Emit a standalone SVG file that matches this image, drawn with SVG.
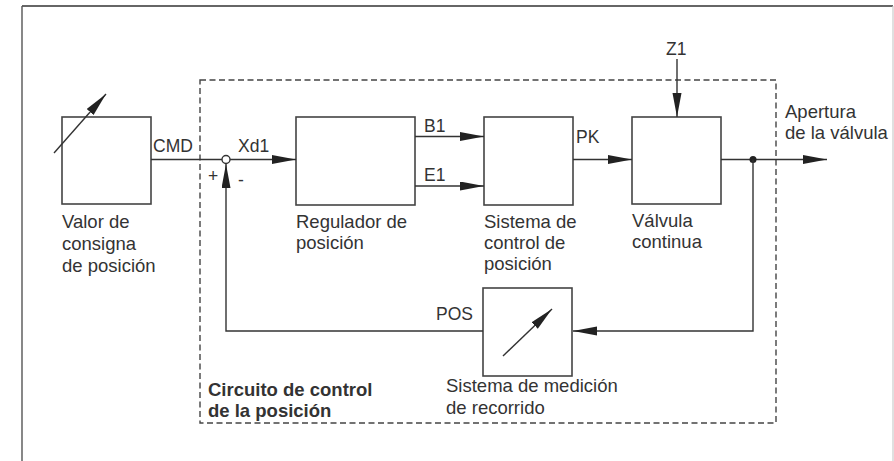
<svg xmlns="http://www.w3.org/2000/svg" width="894" height="461" viewBox="0 0 894 461">
<defs>
<style>
.box{fill:#fff;stroke:#444;stroke-width:1.6}
.ln{fill:none;stroke:#333;stroke-width:1.4}
.arr{marker-end:url(#ah)}
.dash{fill:none;stroke:#444;stroke-width:1.4;stroke-dasharray:6 3.5}
.t{font-family:"Liberation Sans",Arial,Helvetica,sans-serif;font-size:18.5px;fill:#333}
.s{font-family:"Liberation Sans",Arial,Helvetica,sans-serif;font-size:17.5px;fill:#333}
.b{font-family:"Liberation Sans",Arial,Helvetica,sans-serif;font-size:18.5px;font-weight:bold;fill:#333}
</style>
<marker id="ah" markerUnits="userSpaceOnUse" markerWidth="25" markerHeight="10" refX="24" refY="4.5" orient="auto" viewBox="0 0 25 10">
<path d="M0,0 L24,4.5 L0,9 Z" fill="#222"/>
</marker>
</defs>
<rect width="894" height="461" fill="#fff"/>
<g id="frame">
<line x1="22" y1="6" x2="893" y2="6" stroke="#333" stroke-width="1.4"/>
<line x1="22" y1="6" x2="22" y2="461" stroke="#555" stroke-width="1.4"/>
<line x1="893" y1="6" x2="893" y2="461" stroke="#ccc" stroke-width="1.2"/>
</g>
<g id="circuit">
<rect class="dash" x="200" y="80" width="576" height="343"/>
<text class="b" x="208" y="396">Circuito de control</text>
<text class="b" x="208" y="417">de la posición</text>
</g>
<g id="valor">
<rect class="box" x="62" y="117" width="89" height="87"/>
<line class="ln arr" x1="54" y1="153" x2="106" y2="94"/>
<text class="t" x="62" y="228">Valor de</text>
<text class="t" x="62" y="250">consigna</text>
<text class="t" x="62" y="272">de posición</text>
</g>
<g id="sum">
<circle cx="226" cy="159.5" r="4" fill="#fff" stroke="#333" stroke-width="1.4"/>
<text class="s" x="208" y="182">+</text>
<text class="s" x="238" y="186">-</text>
</g>
<g id="regulador">
<rect class="box" x="296" y="117" width="119" height="88"/>
<text class="t" x="296" y="228">Regulador de</text>
<text class="t" x="296" y="249">posición</text>
</g>
<g id="sistema-control">
<rect class="box" x="484" y="117" width="89" height="88"/>
<text class="t" x="484" y="228">Sistema de</text>
<text class="t" x="484" y="249">control de</text>
<text class="t" x="484" y="270">posición</text>
</g>
<g id="valvula">
<rect class="box" x="632" y="117" width="89" height="87"/>
<text class="t" x="632" y="227">Válvula</text>
<text class="t" x="632" y="248">continua</text>
</g>
<g id="medicion">
<rect class="box" x="483" y="288" width="89" height="88"/>
<line class="ln arr" x1="503" y1="356" x2="552" y2="309"/>
<text class="t" x="446" y="392">Sistema de medición</text>
<text class="t" x="446" y="414">de recorrido</text>
</g>
<g id="connectors">
<line class="ln" x1="151" y1="159.5" x2="222" y2="159.5"/>
<line class="ln arr" x1="230" y1="159.5" x2="296" y2="159.5"/>
<line class="ln arr" x1="415" y1="136.5" x2="484" y2="136.5"/>
<line class="ln arr" x1="415" y1="186" x2="484" y2="186"/>
<line class="ln arr" x1="573" y1="159.5" x2="632" y2="159.5"/>
<line class="ln arr" x1="677" y1="59" x2="677" y2="117"/>
<line class="ln arr" x1="721" y1="159.5" x2="827" y2="159.5"/>
<circle cx="753" cy="159.5" r="3.5" fill="#222"/>
<polyline class="ln arr" points="753,159.5 753,331 573,331"/>
<polyline class="ln arr" points="483,331 226,331 226,164"/>
</g>
<g id="labels">
<text class="s" x="153" y="152">CMD</text>
<text class="s" x="238" y="152">Xd1</text>
<text class="s" x="424" y="132">B1</text>
<text class="s" x="424" y="181">E1</text>
<text class="s" x="576" y="143">PK</text>
<text class="s" x="666" y="55">Z1</text>
<text class="s" x="436" y="320">POS</text>
<text class="t" x="785" y="118">Apertura</text>
<text class="t" x="785" y="139">de la válvula</text>
</g>
</svg>
